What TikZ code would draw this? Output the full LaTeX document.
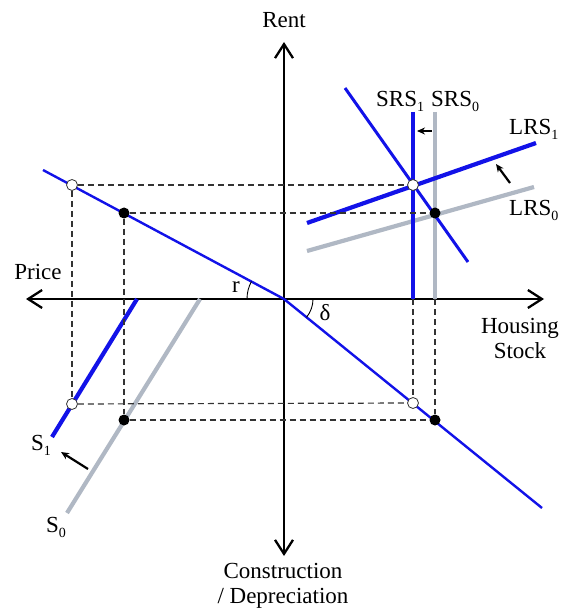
\documentclass[tikz,border=0pt]{standalone}
\usepackage{fontspec}
\setmainfont{Liberation Serif}
\usetikzlibrary{arrows.meta}

\definecolor{curveblue}{RGB}{18,18,232}
\definecolor{oldgray}{RGB}{176,184,196}
\newcommand{\lowsub}[1]{\raisebox{-5pt}{\fontsize{14}{14}\selectfont #1}}

\begin{document}
\begin{tikzpicture}[x=1pt, y=-1pt, font=\fontsize{23}{25}\selectfont,
    axis/.style={{Straight Barb[length=14pt,width=18pt]}-{Straight Barb[length=14pt,width=18pt]}, line width=2.3pt},
    newcurve/.style={curveblue, line width=4.2pt},
    oldcurve/.style={oldgray, line width=4.2pt},
    thin blue/.style={curveblue, line width=2.4pt},
    guide/.style={dash pattern=on 6pt off 4pt, line width=1.2pt, black!80},
    shift arrow/.style={-{Stealth[length=8pt,width=7pt]}, line width=2.2pt},
    newdot/.style={circle, draw=black!80, fill=white, line width=0.8pt, inner sep=0pt, minimum size=11pt},
    olddot/.style={circle, fill=black, inner sep=0pt, minimum size=11pt}]

\useasboundingbox (0,0) rectangle (573,612);

%osi
\coordinate (O) at (284,299);
\coordinate (rentTop) at (284,42);
\coordinate (rentBot) at (284,556);
\coordinate (priceEnd) at (26,299);
\coordinate (stockEnd) at (544,299);
\draw[axis] (rentBot) -- (rentTop);
\draw[axis] (priceEnd) -- (stockEnd);

%natpisi osi
\node (rent) at (284,20) {Rent};
\node (price) at (38,272) {Price};
\node (stock) [align=center] at (520,338) {Housing\\Stock};
\node (constr) [align=center] at (283,586) {Construction\\/ Depreciation};

%cijena i amortizacija kroz ishodiste
\coordinate (rTop) at (43,170);
\coordinate (dBot) at (542,508);
\draw[thin blue] (rTop) -- (O);
\draw[thin blue] (O) -- (dBot);
\draw[line width=0.9pt] (O) ++(-37,0) arc[start angle=180, end angle=208.2, radius=37];
\draw[line width=0.9pt] (O) ++(29,0) arc[start angle=0, end angle=39, radius=29];
\node (r) at (236,287) {r};
\node (delta) at (325,313) {δ};

%trziste najma
\coordinate (dmTop) at (345,88);
\coordinate (dmBot) at (468,262);
\coordinate (srsOneTop) at (413,112);
\coordinate (srsOneFoot) at (413,299);
\coordinate (srsZeroTop) at (435,112);
\coordinate (srsZeroFoot) at (435,299);
\coordinate (lrsOneL) at (307,223);
\coordinate (lrsOneR) at (536,143);
\coordinate (lrsZeroL) at (307,251);
\coordinate (lrsZeroR) at (534,187);
\draw[oldcurve] (srsZeroTop) -- (srsZeroFoot);
\draw[oldcurve] (lrsZeroL) -- (lrsZeroR);
\draw[newcurve] (srsOneTop) -- (srsOneFoot);
\draw[newcurve] (lrsOneL) -- (lrsOneR);
\draw[curveblue, line width=3pt] (dmTop) -- (dmBot);

\node (srsOne) [anchor=base west, inner sep=0pt] at (376,107) {SRS\lowsub{1}};
\node (srsZero) [anchor=base west, inner sep=0pt] at (431,107) {SRS\lowsub{0}};
\node (lrsOne) [anchor=base west, inner sep=0pt] at (509,135) {LRS\lowsub{1}};
\node (lrsZero) [anchor=base west, inner sep=0pt] at (509,215) {LRS\lowsub{0}};

%gradnja
\coordinate (sOneBot) at (52,437);
\coordinate (sOneTop) at (137,299);
\coordinate (sZeroBot) at (67,513);
\coordinate (sZeroTop) at (200,299);
\draw[oldcurve] (sZeroBot) -- (sZeroTop);
\draw[newcurve] (sOneBot) -- (sOneTop);
\node (sOne) [anchor=base west, inner sep=0pt] at (31,450) {S\lowsub{1}};
\node (sZero) [anchor=base west, inner sep=0pt] at (46,532) {S\lowsub{0}};

%pomaci
\coordinate (srsArrA) at (432,131);
\coordinate (srsArrB) at (417,131);
\coordinate (lrsArrA) at (510,183);
\coordinate (lrsArrB) at (496,164);
\coordinate (sArrA) at (88,469);
\coordinate (sArrB) at (61,452);
\draw[shift arrow] (srsArrA) -- (srsArrB);
\draw[shift arrow] (lrsArrA) -- (lrsArrB);
\draw[shift arrow] (sArrA) -- (sArrB);

%ravnoteze
\node[newdot] (newRent) at (413,185) {};
\node[olddot] (oldRent) at (435,213) {};
\node[newdot] (newPrice) at (72,185) {};
\node[olddot] (oldPrice) at (124,213) {};
\node[newdot] (newBuild) at (72,404) {};
\node[olddot] (oldBuild) at (124,420) {};
\node[newdot] (newStock) at (413,403) {};
\node[olddot] (oldStock) at (435,420) {};

%isprekidane linije
\draw[guide] (newPrice) -- (newRent);
\draw[guide] (oldPrice) -- (oldRent);
\draw[guide] (newPrice) -- (newBuild);
\draw[guide] (oldPrice) -- (oldBuild);
\draw[guide] (newBuild) -- (newStock);
\draw[guide] (oldBuild) -- (oldStock);
\draw[guide] (srsOneFoot) -- (newStock);
\draw[guide] (srsZeroFoot) -- (oldStock);

\end{tikzpicture}
\end{document}
